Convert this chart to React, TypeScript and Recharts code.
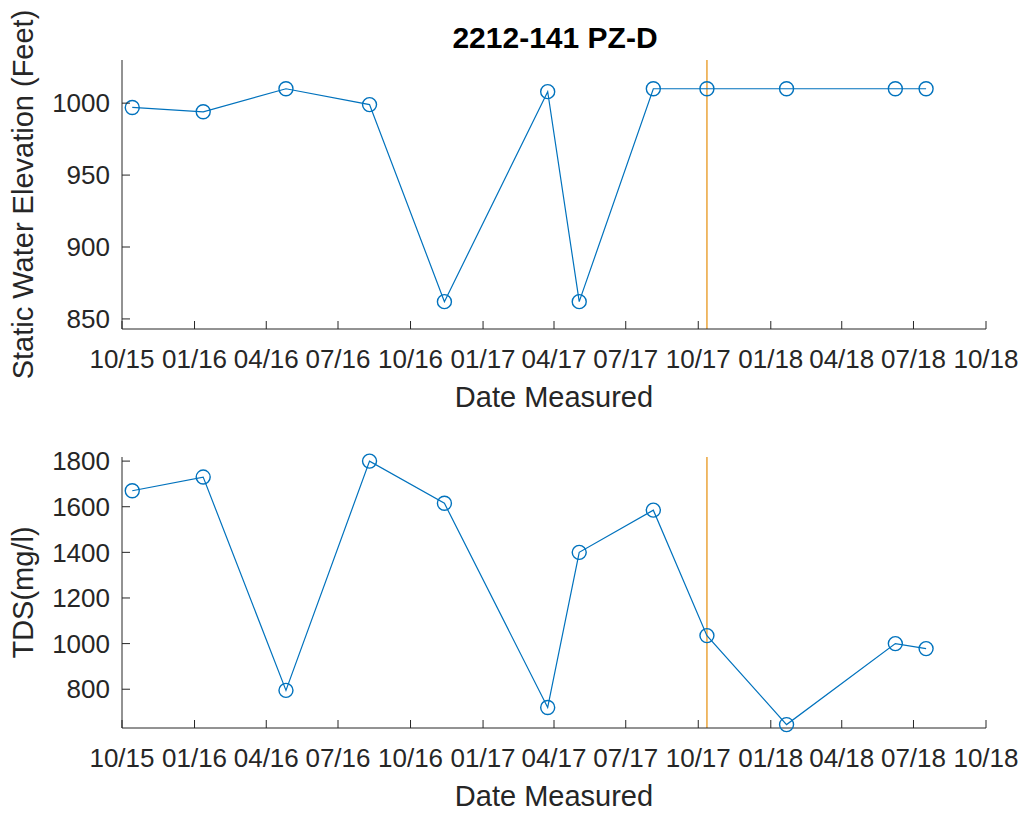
import React from 'react';
import { CartesianGrid, Line, LineChart, ReferenceLine, XAxis, YAxis } from 'recharts';

const dates = [
  '2015-10-14',
  '2016-01-12',
  '2016-04-26',
  '2016-08-10',
  '2016-11-13',
  '2017-03-24',
  '2017-05-03',
  '2017-08-05',
  '2017-10-12',
  '2018-01-21',
  '2018-06-08',
  '2018-07-17',
];
const elevation = [997, 994, 1010, 999, 862, 1008, 862, 1010, 1010, 1010, 1010, 1010];
const tds = [1670, 1730, 795, 1800, 1615, 720, 1400, 1585, 1035, 645, 1000, 978];

const tickDates = [
  '2015-10-01', '2016-01-01', '2016-04-01', '2016-07-01', '2016-10-01',
  '2017-01-01', '2017-04-01', '2017-07-01', '2017-10-01', '2018-01-01',
  '2018-04-01', '2018-07-01', '2018-10-01',
];
const elevationTicks = [850, 900, 950, 1000];
const tdsTicks = [800, 1000, 1200, 1400, 1600, 1800];
const markerDate = '2017-10-12';

const toTime = (d: string) => Date.parse(d + 'T00:00:00Z');
const fmtDate = (t: number) => {
  const d = new Date(t);
  const mm = String(d.getUTCMonth() + 1).padStart(2, '0');
  const yy = String(d.getUTCFullYear() % 100).padStart(2, '0');
  return `${mm}/${yy}`;
};

const data = dates.map((d, i) => ({ t: toTime(d), elevation: elevation[i], tds: tds[i] }));
const xTicks = tickDates.map(toTime);

const FONT = '"Liberation Sans", Arial, Helvetica, sans-serif';
const AXIS = '#262626';
const BLUE = '#0072BD';
const ORANGE = '#EBA43A';
const X_MARGIN = 39;
const Y_MARGIN = 12;
const TICK_LEN = 8;

const XTick = (props: any) => {
  const { x, y, payload } = props;
  const axisY = y - X_MARGIN;
  return (
    <g>
      <line x1={x} y1={axisY} x2={x} y2={axisY - TICK_LEN} stroke={AXIS} strokeWidth={1} />
      <text x={x} y={y} textAnchor="middle" fill={AXIS} fontSize={26} fontFamily={FONT}>
        {fmtDate(payload.value)}
      </text>
    </g>
  );
};

const YTick = (props: any) => {
  const { x, y, payload } = props;
  const axisX = x + Y_MARGIN;
  return (
    <g>
      <line x1={axisX} y1={y} x2={axisX + TICK_LEN} y2={y} stroke={AXIS} strokeWidth={1} />
      <text x={x} y={y} dy="0.355em" textAnchor="end" fill={AXIS} fontSize={26} fontFamily={FONT}>
        {payload.value}
      </text>
    </g>
  );
};

interface PanelProps {
  dataKey: string;
  yLabel: string;
  domain: [number, number];
  ticks: number[];
  height: number;
  top: number;
  xAxisHeight: number;
  xLabelOffset: number;
}

const Panel: React.FunctionComponent<PanelProps> = ({
  dataKey,
  yLabel,
  domain,
  ticks,
  height,
  top,
  xAxisHeight,
  xLabelOffset,
}) => {
  return (
    <LineChart
      width={1026}
      height={height}
      data={data}
      margin={{ top, right: 40, left: 0, bottom: 0 }}
      style={{ fontFamily: FONT }}
    >
      <CartesianGrid stroke="none" />
      <XAxis
        dataKey="t"
        type="number"
        domain={[xTicks[0], xTicks[xTicks.length - 1]]}
        ticks={xTicks}
        interval={0}
        height={xAxisHeight}
        tickSize={0}
        tickMargin={X_MARGIN}
        tickLine={false}
        tick={<XTick />}
        axisLine={{ stroke: AXIS, strokeWidth: 1 }}
        label={{
          value: 'Date Measured',
          position: 'insideBottom',
          offset: xLabelOffset,
          fill: AXIS,
          fontSize: 29,
          fontFamily: FONT,
        }}
      />
      <YAxis
        type="number"
        domain={domain}
        ticks={ticks}
        width={122}
        tickSize={0}
        tickMargin={Y_MARGIN}
        tickLine={false}
        tick={<YTick />}
        axisLine={{ stroke: AXIS, strokeWidth: 1 }}
        label={{
          value: yLabel,
          angle: -90,
          position: 'insideLeft',
          offset: 23,
          fill: AXIS,
          fontSize: 29,
          fontFamily: FONT,
          style: { textAnchor: 'middle' },
        }}
      />
      <ReferenceLine x={toTime(markerDate)} stroke={ORANGE} strokeWidth={1.5} />
      <Line
        dataKey={dataKey}
        stroke={BLUE}
        strokeWidth={1.2}
        dot={{ r: 7, stroke: BLUE, strokeWidth: 1.4, fill: 'none' }}
        activeDot={false}
        isAnimationActive={false}
      />
    </LineChart>
  );
};

const App = () => {
  return (
    <div style={{ position: 'absolute', left: 0, top: 0, width: 1026, height: 813, background: '#fff' }}>
      <svg width={1026} height={60} style={{ position: 'absolute', left: 0, top: 0 }}>
        <text x={555} y={48} textAnchor="middle" fontSize={30} fontWeight="bold" fill="#000" fontFamily={FONT}>
          2212-141 PZ-D
        </text>
      </svg>
      <div style={{ position: 'absolute', left: 0, top: 0 }}>
        <Panel
          dataKey="elevation"
          yLabel="Static Water Elevation (Feet)"
          domain={[843, 1030]}
          ticks={elevationTicks}
          height={420}
          top={60}
          xAxisHeight={91}
          xLabelOffset={13}
        />
      </div>
      <div style={{ position: 'absolute', left: 0, top: 400 }}>
        <Panel
          dataKey="tds"
          yLabel="TDS(mg/l)"
          domain={[630, 1818]}
          ticks={tdsTicks}
          height={413}
          top={57}
          xAxisHeight={85}
          xLabelOffset={7}
        />
      </div>
    </div>
  );
};

export default App;
